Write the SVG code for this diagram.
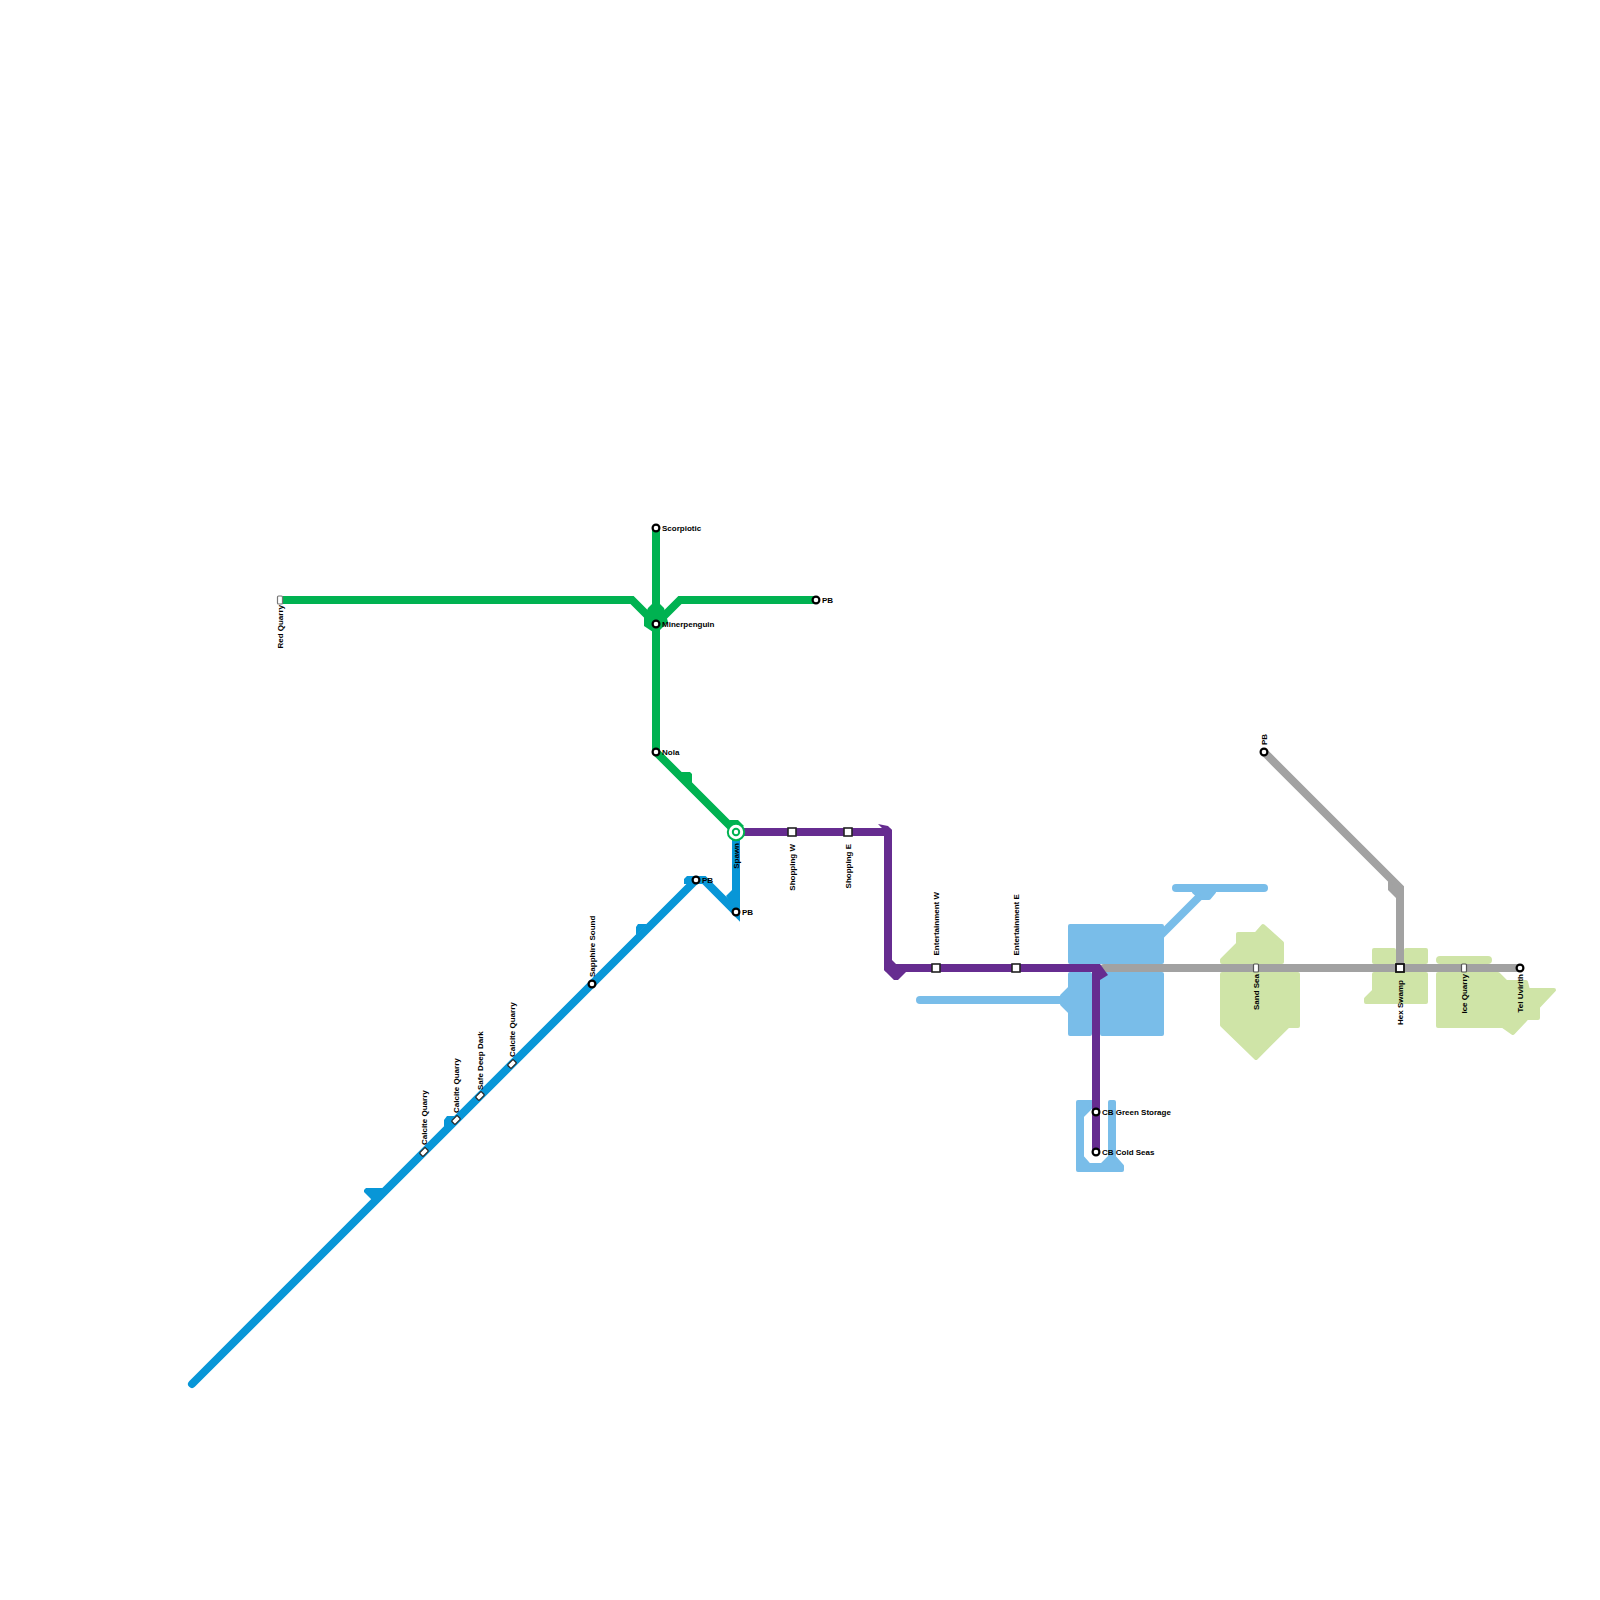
<svg xmlns="http://www.w3.org/2000/svg" width="1600" height="1600" viewBox="0 0 1600 1600">
<style>
text{font-family:"Liberation Sans",Arial,sans-serif;font-size:8px;font-weight:700;fill:#000}
.up{text-anchor:start}.down{text-anchor:end}
.line{fill:none;stroke-width:8;stroke-linejoin:miter}
.cap{stroke-linecap:round}
.water{fill:#79bde9;stroke:#79bde9;stroke-width:4;stroke-linejoin:round}
.waterline{fill:none;stroke:#79bde9;stroke-width:8;stroke-linecap:round}
.land{fill:#cfe4a7;stroke:#cfe4a7;stroke-width:4;stroke-linejoin:round}
.landline{fill:none;stroke:#cfe4a7;stroke-width:8;stroke-linecap:round}
.blue{stroke:#0896d7}.green{stroke:#00b251}.purple{stroke:#662c90}.gray{stroke:#a2a2a2}
.fblue{fill:#0896d7}.fgreen{fill:#00b251}.fpurple{fill:#662c90}.fgray{fill:#a2a2a2}
.st{fill:#fff;stroke:#000;stroke-width:2.2}
.sq{fill:#fff;stroke:#222;stroke-width:1.6}
.sm{fill:#fff;stroke:#555;stroke-width:1.2}
</style>
<g id="background">
<polygon class="water" points="1070,926 1162,926 1162,962 1070,962"/>
<polygon class="water" points="1070,974 1090,974 1090,1034 1070,1034"/>
<polygon class="water" points="1102,974 1162,974 1162,1034 1102,1034"/>
<path class="waterline" d="M920,1000H1064"/>
<polygon class="water" points="1062,996 1070,988 1070,1012 1062,1004"/>
<path class="waterline" d="M1160,936L1204,892" style="stroke-linecap:butt"/>
<path class="waterline" d="M1176,888H1264"/>
<polygon class="water" points="1194,892 1214,892 1209,898 1201,898"/>
<path class="water" d="M1078,1102H1092V1106L1082,1116V1157L1089,1165H1102L1110,1157V1102H1114V1157L1122,1166V1170H1078Z"/>
<polygon class="land" points="1222,960 1238,944 1238,934 1256,934 1263,926 1282,943 1282,962 1222,962"/>
<polygon class="land" points="1222,974 1298,974 1298,1026 1288,1026 1256,1058 1222,1025"/>
<polygon class="land" points="1374,950 1394,950 1394,962 1374,962"/>
<polygon class="land" points="1406,950 1426,950 1426,962 1406,962"/>
<polygon class="land" points="1374,974 1426,974 1426,1002 1366,1002 1366,999 1374,991"/>
<path class="landline" d="M1440,960H1488"/>
<polygon class="land" points="1438,974 1498,974 1506,982 1526,982 1528,990 1554,990 1538,1007 1538,1018 1527,1018 1513,1033 1503,1026 1438,1026"/>
</g>
<g id="connectors">
<path class="line gray cap" d="M1104,968H1520"/>
<path class="line gray cap" d="M1264,752L1400,888V968" style="stroke-linecap:butt"/>
<polygon class="fgray" points="1388,881 1388,890 1396,898 1400,890 1396,886"/>
<path class="line blue cap" d="M192,1384L696,880"/>
<path class="line blue" d="M696,880H704L736,912V832"/>
<polygon class="fblue" points="364,1190 366,1188 384,1188 372,1200 364,1192"/>
<polygon class="fblue" points="444,1120 447,1116 456,1116 444,1127"/>
<polygon class="fblue" points="636,927 638,924 647,924 636,935"/>
<polygon class="fblue" points="684,879 687,876 704,876 704,884 684,884"/>
<polygon class="fblue" points="726,896 732,890 732,905"/>
<path class="line green" d="M280,600H632L656,624"/>
<path class="line green" d="M656,528V752L736,832"/>
<path class="line green" d="M816,600H680L656,624"/>
<polygon class="fgreen" points="644,617 644,626 656,634 668,622 664,608 660,604 652,604 648,608"/>
<polygon class="fgreen" points="680,772 690,772 692,774 692,784"/>
<polygon class="fgreen" points="726,824 730,820 738,820 744,826 736,832"/>
<path class="line purple" d="M736,832H888V968H1096V1152" style="stroke-linejoin:round"/>
<polygon class="fpurple" points="878,824 884,830 884,832 884,836 892,836 892,830 888,826"/>
<polygon class="fpurple" points="884,964 884,970 894,980 898,980 906,972 896,964 892,960"/>
<polygon class="fpurple" points="1096,964 1100,964 1108,975 1100,980 1092,976"/>
</g>
<g id="st-scorpiotic"><circle class="st" cx="656" cy="528" r="3.4"/><text x="662" y="530.5">Scorpiotic</text></g>
<g id="st-minerpenguin"><circle class="st" cx="656" cy="624" r="3.4"/><text x="662" y="626.5">Minerpenguin</text></g>
<g id="st-pb-green"><circle class="st" cx="816" cy="600" r="3.4"/><text x="822" y="602.5">PB</text></g>
<g id="st-nola"><circle class="st" cx="656" cy="752" r="3.4"/><text x="662" y="754.5">Nola</text></g>
<g id="st-red-quarry"><rect class="sm" x="277.5" y="596" width="5" height="8" rx="1" style="stroke:#777"/><text class="down" transform="translate(282.5,605) rotate(-90)">Red Quarry</text></g>
<g id="st-spawn"><circle cx="736" cy="832" r="8.2" fill="#fff" stroke="#00b251" stroke-width="2"/><circle cx="736" cy="832" r="3.2" fill="#fff" stroke="#00b251" stroke-width="2"/><text class="down" transform="translate(738.5,843) rotate(-90)">Spawn</text></g>
<g id="st-shopping-w"><rect class="sq" x="788" y="828" width="8" height="8"/><text class="down" transform="translate(794.5,844) rotate(-90)">Shopping W</text></g>
<g id="st-shopping-e"><rect class="sq" x="844" y="828" width="8" height="8"/><text class="down" transform="translate(850.5,844) rotate(-90)">Shopping E</text></g>
<g id="st-pb-blue1"><circle class="st" cx="696" cy="880" r="3.4"/><text x="702" y="882.5">PB</text></g>
<g id="st-pb-blue2"><circle class="st" cx="736" cy="912" r="3.4"/><text x="742" y="914.5">PB</text></g>
<g id="st-sapphire"><circle class="st" cx="592" cy="984" r="3.4"/><text class="up" transform="translate(594.5,977) rotate(-90)">Sapphire Sound</text></g>
<g id="st-calcite1"><rect class="sm" x="-2.5" y="-4" width="5" height="8" rx="1" transform="translate(424,1152) rotate(45)" style="stroke:#222"/><text class="up" transform="translate(426.5,1145) rotate(-90)">Calcite Quarry</text></g>
<g id="st-calcite2"><rect class="sm" x="-2.5" y="-4" width="5" height="8" rx="1" transform="translate(456,1120) rotate(45)" style="stroke:#222"/><text class="up" transform="translate(458.5,1113) rotate(-90)">Calcite Quarry</text></g>
<g id="st-safe-deep-dark"><rect class="sm" x="-2.5" y="-4" width="5" height="8" rx="1" transform="translate(480,1096) rotate(45)" style="stroke:#222"/><text class="up" transform="translate(482.5,1090) rotate(-90)">Safe Deep Dark</text></g>
<g id="st-calcite3"><rect class="sm" x="-2.5" y="-4" width="5" height="8" rx="1" transform="translate(512,1064) rotate(45)" style="stroke:#222"/><text class="up" transform="translate(514.5,1057) rotate(-90)">Calcite Quarry</text></g>
<g id="st-ent-w"><rect class="sq" x="932" y="964" width="8" height="8"/><text class="up" transform="translate(938.5,955.5) rotate(-90)">Entertainment W</text></g>
<g id="st-ent-e"><rect class="sq" x="1012" y="964" width="8" height="8"/><text class="up" transform="translate(1018.5,955.5) rotate(-90)">Entertainment E</text></g>
<g id="st-cb-green"><circle class="st" cx="1096" cy="1112" r="3.4"/><text x="1102" y="1114.5">CB Green Storage</text></g>
<g id="st-cb-cold"><circle class="st" cx="1096" cy="1152" r="3.4"/><text x="1102" y="1154.5">CB Cold Seas</text></g>
<g id="st-sand-sea"><rect class="sm" x="1253.5" y="964" width="5" height="8" rx="1"/><text class="down" transform="translate(1258.5,974) rotate(-90)">Sand Sea</text></g>
<g id="st-pb-gray"><circle class="st" cx="1264" cy="752" r="3.4"/><text class="up" transform="translate(1266.5,745) rotate(-90)">PB</text></g>
<g id="st-hex-swamp"><rect x="1396" y="964" width="8" height="8" fill="#fff" stroke="#111" stroke-width="1.8"/><text class="down" transform="translate(1402.5,980) rotate(-90)">Hex Swamp</text></g>
<g id="st-ice-quarry"><rect class="sm" x="1461.5" y="964" width="5" height="8" rx="1"/><text class="down" transform="translate(1466.5,974) rotate(-90)">Ice Quarry</text></g>
<g id="st-tel-uvirith"><circle class="st" cx="1520" cy="968" r="3.4"/><text class="down" transform="translate(1522.5,974) rotate(-90)">Tel Uvirith</text></g>
</svg>
